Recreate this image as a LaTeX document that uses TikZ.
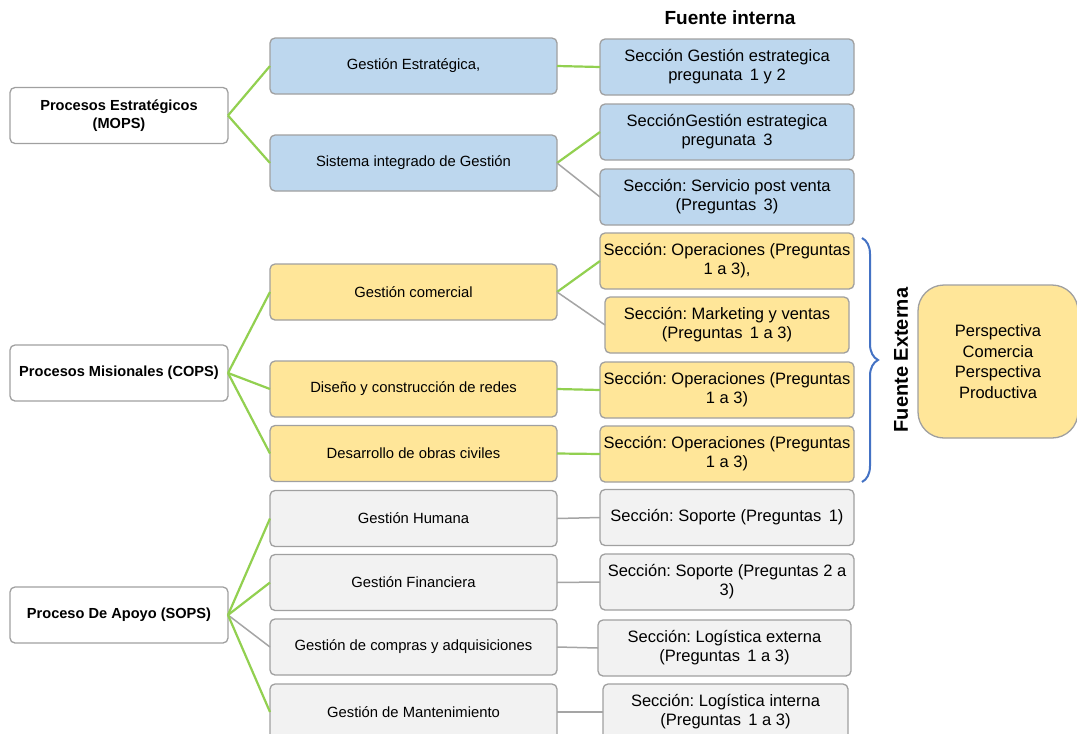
\documentclass[tikz,border=0pt]{standalone}
\usepackage{fontspec}
\setmainfont{Liberation Sans}
\usetikzlibrary{decorations.pathreplacing}
\definecolor{bluefill}{RGB}{189,215,238}
\definecolor{yellowfill}{RGB}{255,230,153}
\definecolor{grayfill}{RGB}{242,242,242}
\definecolor{boxborder}{RGB}{160,160,160}
\definecolor{greenline}{RGB}{146,208,80}
\definecolor{grayline}{RGB}{165,165,165}
\definecolor{braceblue}{RGB}{68,114,196}
\frenchspacing
\tikzset{
  box/.style={draw=boxborder, line width=1.3pt, rounded corners=5pt, inner sep=0pt, outer sep=0pt, align=center},
  rootbox/.style={box, fill=white, minimum width=218pt, minimum height=56pt, font=\bfseries\fontsize{14.6}{18}\selectfont},
  midbox/.style={box, minimum width=287pt, minimum height=56pt, font=\fontsize{14.8}{18}\selectfont},
  rightbox/.style={box, minimum width=254pt, minimum height=56pt, font=\fontsize{16.5}{19}\selectfont},
  bluebox/.style={fill=bluefill},
  yellowbox/.style={fill=yellowfill},
  graybox/.style={fill=grayfill},
  gline/.style={draw=greenline, line width=2.2pt},
  kline/.style={draw=grayline, line width=1.5pt},
}
\newcommand{\wsp}{\hspace{0.45em}}
\begin{document}
\begin{tikzpicture}[x=1pt,y=-1pt]
\useasboundingbox (0,0) rectangle (1077,734);
\fill[white] (0,0) rectangle (1077,734);

\node[font=\bfseries\fontsize{19}{22}\selectfont] (fi) at (730,18) {Fuente interna};

% roots
\node[rootbox] (mops) at (119,115.5) {Procesos Estratégicos\\(MOPS)};
\node[rootbox] (cops) at (119,373) {Procesos Misionales (COPS)};
\node[rootbox] (sops) at (119,615) {Proceso De Apoyo (SOPS)};

% middle
\node[midbox,bluebox] (ge) at (413.5,66) {Gestión Estratégica,};
\node[midbox,bluebox] (sig) at (413.5,163) {Sistema integrado de Gestión};
\node[midbox,yellowbox] (gc) at (413.5,292) {Gestión comercial};
\node[midbox,yellowbox] (dcr) at (413.5,389) {Diseño y construcción de redes};
\node[midbox,yellowbox] (doc) at (413.5,453.5) {Desarrollo de obras civiles};
\node[midbox,graybox] (gh) at (413.5,518.5) {Gestión Humana};
\node[midbox,graybox] (gf) at (413.5,582.5) {Gestión Financiera};
\node[midbox,graybox] (gca) at (413.5,647) {Gestión de compras y adquisiciones};
\node[midbox,graybox] (gm) at (413.5,712) {Gestión de Mantenimiento};

% right
\node[rightbox,bluebox] (r1) at (727,67) {Sección Gestión estrategica\\pregunata\wsp 1 y 2};
\node[rightbox,bluebox] (r2) at (727,132) {SecciónGestión estrategica\\pregunata\wsp 3};
\node[rightbox,bluebox] (r3) at (727,197) {Sección: Servicio post venta\\(Preguntas\wsp 3)};
\node[rightbox,yellowbox] (op1) at (727,261) {Sección: Operaciones (Preguntas\\1 a 3),};
\node[rightbox,yellowbox,minimum width=244pt] (mkt) at (727,325) {Sección: Marketing y ventas\\(Preguntas\wsp 1 a 3)};
\node[rightbox,yellowbox] (op2) at (727,390) {Sección: Operaciones (Preguntas\\1 a 3)};
\node[rightbox,yellowbox] (op3) at (727,454) {Sección: Operaciones (Preguntas\\1 a 3)};
\node[rightbox,graybox] (s1) at (727,517.5) {Sección: Soporte (Preguntas\wsp 1)};
\node[rightbox,graybox] (s2) at (727,582) {Sección: Soporte (Preguntas 2 a\\3)};
\node[rightbox,graybox,minimum width=253pt] (le) at (724.5,648) {Sección: Logística externa\\(Preguntas\wsp 1 a 3)};
\node[rightbox,graybox,minimum width=245pt] (li) at (725.5,712) {Sección: Logística interna\\(Preguntas\wsp 1 a 3)};

% external source
\coordinate (bt) at (862,238);
\coordinate (bb) at (862,482);
\draw[braceblue, line width=2pt, decorate, decoration={brace, amplitude=16pt}] (bt) -- (bb);
\node[rotate=90, font=\bfseries\fontsize{20}{24}\selectfont] (fe) at (901,360) {Fuente Externa};
\node[box, yellowbox, rounded corners=26pt, minimum width=160pt, minimum height=153pt, font=\fontsize{16.5}{20.5}\selectfont] (persp) at (998,361.5) {Perspectiva\\Comercia\\Perspectiva\\Productiva};

% connectors
\draw[gline] (mops.east) -- (ge.west);
\draw[gline] (mops.east) -- (sig.west);
\draw[gline] (ge.east) -- (r1.west);
\draw[gline] (sig.east) -- (r2.west);
\draw[kline] (sig.east) -- (r3.west);

\draw[gline] (cops.east) -- (gc.west);
\draw[gline] (cops.east) -- (dcr.west);
\draw[gline] (cops.east) -- (doc.west);
\draw[gline] (gc.east) -- (op1.west);
\draw[kline] (gc.east) -- (mkt.west);
\draw[gline] (dcr.east) -- (op2.west);
\draw[gline] (doc.east) -- (op3.west);

\draw[gline] (sops.east) -- (gh.west);
\draw[gline] (sops.east) -- (gf.west);
\draw[kline] (sops.east) -- (gca.west);
\draw[gline] (sops.east) -- (gm.west);
\draw[kline] (gh.east) -- (s1.west);
\draw[kline] (gf.east) -- (s2.west);
\draw[kline] (gca.east) -- (le.west);
\draw[kline] (gm.east) -- (li.west);
\end{tikzpicture}
\end{document}
